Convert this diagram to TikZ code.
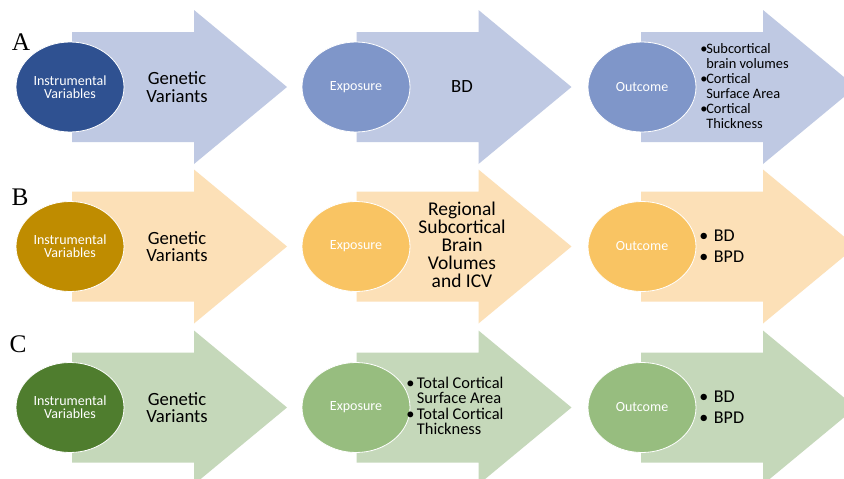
\documentclass[tikz,border=0pt]{standalone}
\usepackage{fontspec}
\setmainfont{Carlito}
\newfontfamily\letterfont{Liberation Serif}
\usetikzlibrary{shapes.geometric}
\definecolor{arrA}{HTML}{BFC9E3}
\definecolor{darkA}{HTML}{2F5191}
\definecolor{lightA}{HTML}{7F96C9}
\definecolor{arrB}{HTML}{FCE0B7}
\definecolor{darkB}{HTML}{BF8C00}
\definecolor{lightB}{HTML}{F9C463}
\definecolor{arrC}{HTML}{C5D8BA}
\definecolor{darkC}{HTML}{4F7D2E}
\definecolor{lightC}{HTML}{97BD7F}
\newcommand\fatarrow[3]{%
  \fill[#3] (#1,#2-55) -- (#1+122,#2-55) -- (#1+122,#2-77) -- (#1+215,#2)
    -- (#1+122,#2+77) -- (#1+122,#2+55) -- (#1,#2+55) -- cycle;}
\newcommand\bulbox[1]{\makebox[#1][l]{•}}
\tikzset{
  oval/.style={ellipse, draw=white, line width=0.6pt, fill=#1,
    minimum width=81pt, minimum height=67.5pt, inner sep=0pt,
    text=white, align=center, font=\fontsize{10.5}{10}\selectfont},
  bigtext/.style={align=center, text=black, inner sep=0pt,
    font=\fontsize{14}{13.2}\selectfont},
  listtext/.style={anchor=west, align=left, text=black, inner sep=0pt},
  panelletter/.style={font=\letterfont\fontsize{19}{19}\selectfont, inner sep=0pt}
}
\begin{document}
\begin{tikzpicture}[x=0.75pt, y=-0.75pt]
\useasboundingbox (0,0) rectangle (844,479);
\clip (0,0) rectangle (844,479);
\fill[white] (0,0) rectangle (844,479);
% Row A
\fatarrow{72}{87}{arrA}
\fatarrow{356.5}{87}{arrA}
\fatarrow{641}{87}{arrA}
\node[oval=darkA] (a1) at (70,87) {Instrumental\\Variables};
\node[oval=lightA] (a2) at (356,87) {Exposure};
\node[oval=lightA] (a3) at (642,87) {Outcome};
\node[bigtext] (ta1) at (177,87) {Genetic\\Variants};
\node[bigtext] (ta2) at (462,87) {BD};
\node[listtext, font=\fontsize{10.8}{11.25}\selectfont] (ta3) at (700,86)
  {\bulbox{4.5pt}Subcortical\\\hspace*{4.5pt}brain volumes\\
   \bulbox{4.5pt}Cortical\\\hspace*{4.5pt}Surface Area\\
   \bulbox{4.5pt}Cortical\\\hspace*{4.5pt}Thickness};
\node[panelletter] (la) at (21,42) {A};
% Row B
\fatarrow{72}{246.5}{arrB}
\fatarrow{356.5}{246.5}{arrB}
\fatarrow{641}{246.5}{arrB}
\node[oval=darkB] (b1) at (70,246.5) {Instrumental\\Variables};
\node[oval=lightB] (b2) at (356,246.5) {Exposure};
\node[oval=lightB] (b3) at (642,246.5) {Outcome};
\node[bigtext] (tb1) at (177,246.5) {Genetic\\Variants};
\node[bigtext, font=\fontsize{14.6}{13.5}\selectfont] (tb2) at (462,245)
  {Regional\\Subcortical\\Brain\\Volumes\\and ICV};
\node[listtext, font=\fontsize{13.5}{15.75}\selectfont] (tb3) at (699,246.5)
  {\bulbox{11pt}BD\\\bulbox{11pt}BPD};
\node[panelletter] (lb) at (20,197) {B};
% Row C
\fatarrow{72}{407.5}{arrC}
\fatarrow{356.5}{407.5}{arrC}
\fatarrow{641}{407.5}{arrC}
\node[oval=darkC] (c1) at (70,407.5) {Instrumental\\Variables};
\node[oval=lightC] (c2) at (356,407.5) {Exposure};
\node[oval=lightC] (c3) at (642,407.5) {Outcome};
\node[bigtext] (tc1) at (177,407.5) {Genetic\\Variants};
\node[listtext, font=\fontsize{12.3}{11.5}\selectfont] (tc2) at (406,406)
  {\bulbox{8pt}Total Cortical\\\hspace*{8pt}Surface Area\\
   \bulbox{8pt}Total Cortical\\\hspace*{8pt}Thickness};
\node[listtext, font=\fontsize{13.5}{15.75}\selectfont] (tc3) at (699,407.5)
  {\bulbox{11pt}BD\\\bulbox{11pt}BPD};
\node[panelletter] (lc) at (18,344) {C};
\end{tikzpicture}
\end{document}
